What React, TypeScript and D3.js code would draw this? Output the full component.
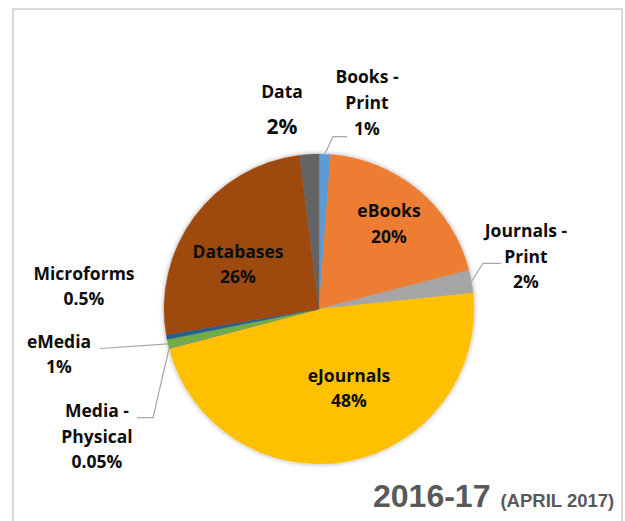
import React from "react";
import * as d3 from "d3";

const categories = ["Books - Print", "eBooks", "Journals - Print", "eJournals", "Media - Physical", "eMedia", "Microforms", "Databases", "Data"];
const values = [1.2, 19.8, 2.4, 47.6, 0.05, 0.9, 0.5, 25.7, 2.0];
const percentLabels = ["1%", "20%", "2%", "48%", "0.05%", "1%", "0.5%", "26%", "2%"];
const colors = ["#5B9BD5", "#ED7D31", "#A5A5A5", "#FFC000", "#4472C4", "#70AD47", "#255E91", "#9E480E", "#636363"];

// label layout: name lines, text center x, first baseline y, line height, leader elbow points (null = none)
const labelLayout = [
  { lines: ["Books -", "Print", "1%"], x: 367, y: 83, lh: 26, leader: [[333, 136.7], [347, 136.7]] },
  { lines: ["eBooks", "20%"], x: 389, y: 217, lh: 26, leader: null },
  { lines: ["Journals -", "Print", "2%"], x: 526, y: 237, lh: 25.5, leader: [[483, 263.3], [501, 263.3]] },
  { lines: ["eJournals", "48%"], x: 349, y: 382, lh: 25, leader: null },
  { lines: ["Media -", "Physical", "0.05%"], x: 97, y: 417, lh: 25.5, leader: [[153, 417.7], [137, 417.7]] },
  { lines: ["eMedia", "1%"], x: 59, y: 348, lh: 24.5, leader: [[100, 348.5]] },
  { lines: ["Microforms", "0.5%"], x: 84, y: 280, lh: 24.5, leader: null },
  { lines: ["Databases", "26%"], x: 238, y: 258, lh: 25, leader: null },
  { lines: ["Data", "2%"], x: 282, y: 98, lh: 36, leader: null, bigSecond: true },
];

const W = 625, H = 521;
const cx = 319, cy = 309, R = 155;

export default function App() {
  const pie = d3.pie<number>().sort(null).value((d) => d).startAngle(0).endAngle(2 * Math.PI);
  const arcs = pie(values);
  const arc = d3.arc<d3.PieArcDatum<number>>().innerRadius(0).outerRadius(R);
  const font = "'Open Sans', Lato, sans-serif";
  const fs = 17.5;

  return (
    <div style={{ position: "fixed", left: 0, top: 0, width: W, height: H, background: "#fff" }}>
      <svg width={W} height={H} style={{ display: "block" }}>
        <defs>
          <filter id="shadow" x="-20%" y="-20%" width="140%" height="140%">
            <feDropShadow dx="0" dy="0" stdDeviation="2.5" floodColor="#000" floodOpacity="0.35" />
          </filter>
        </defs>
        <rect x={13} y={9} width={609} height={530} fill="#fff" stroke="#d9d9d9" strokeWidth={2} />
        <g transform={`translate(${cx},${cy})`}>
          <g filter="url(#shadow)">
            {arcs.map((a, i) => (
              <path key={i} d={arc(a) || ""} fill={colors[i]} stroke={colors[i]} strokeWidth={0.3} />
            ))}
          </g>
        </g>
        {arcs.map((a, i) => {
          const L = labelLayout[i];
          if (!L.leader) return null;
          const mid = (a.startAngle + a.endAngle) / 2;
          const px = cx + R * Math.sin(mid);
          const py = cy - R * Math.cos(mid);
          const pts = [[px, py], ...L.leader];
          return (
            <polyline key={"l" + i} points={pts.map((p) => p.join(",")).join(" ")} fill="none" stroke="#a6a6a6" strokeWidth={1.2} />
          );
        })}
        {labelLayout.map((L, i) => {
          const lines = [...L.lines.slice(0, L.lines.length - 1), percentLabels[i]];
          return (
            <text key={"t" + i} x={L.x} y={L.y} textAnchor="middle" fontFamily={font} fontWeight={700} fontSize={fs} fill="#0d0d0d">
              {lines.map((t, j) => (
                <tspan key={j} x={L.x} y={L.y + j * L.lh} fontSize={L.bigSecond && j === 1 ? 21 : fs}>{t}</tspan>
              ))}
            </text>
          );
        })}
        <text x={373} y={507} fontFamily="'Liberation Sans', Arial, sans-serif" fontWeight={700} fill="#595959">
          <tspan fontSize={32}>2016-17</tspan>
          <tspan fontSize={18.5} dx={10}>(APRIL 2017)</tspan>
        </text>
      </svg>
    </div>
  );
}
